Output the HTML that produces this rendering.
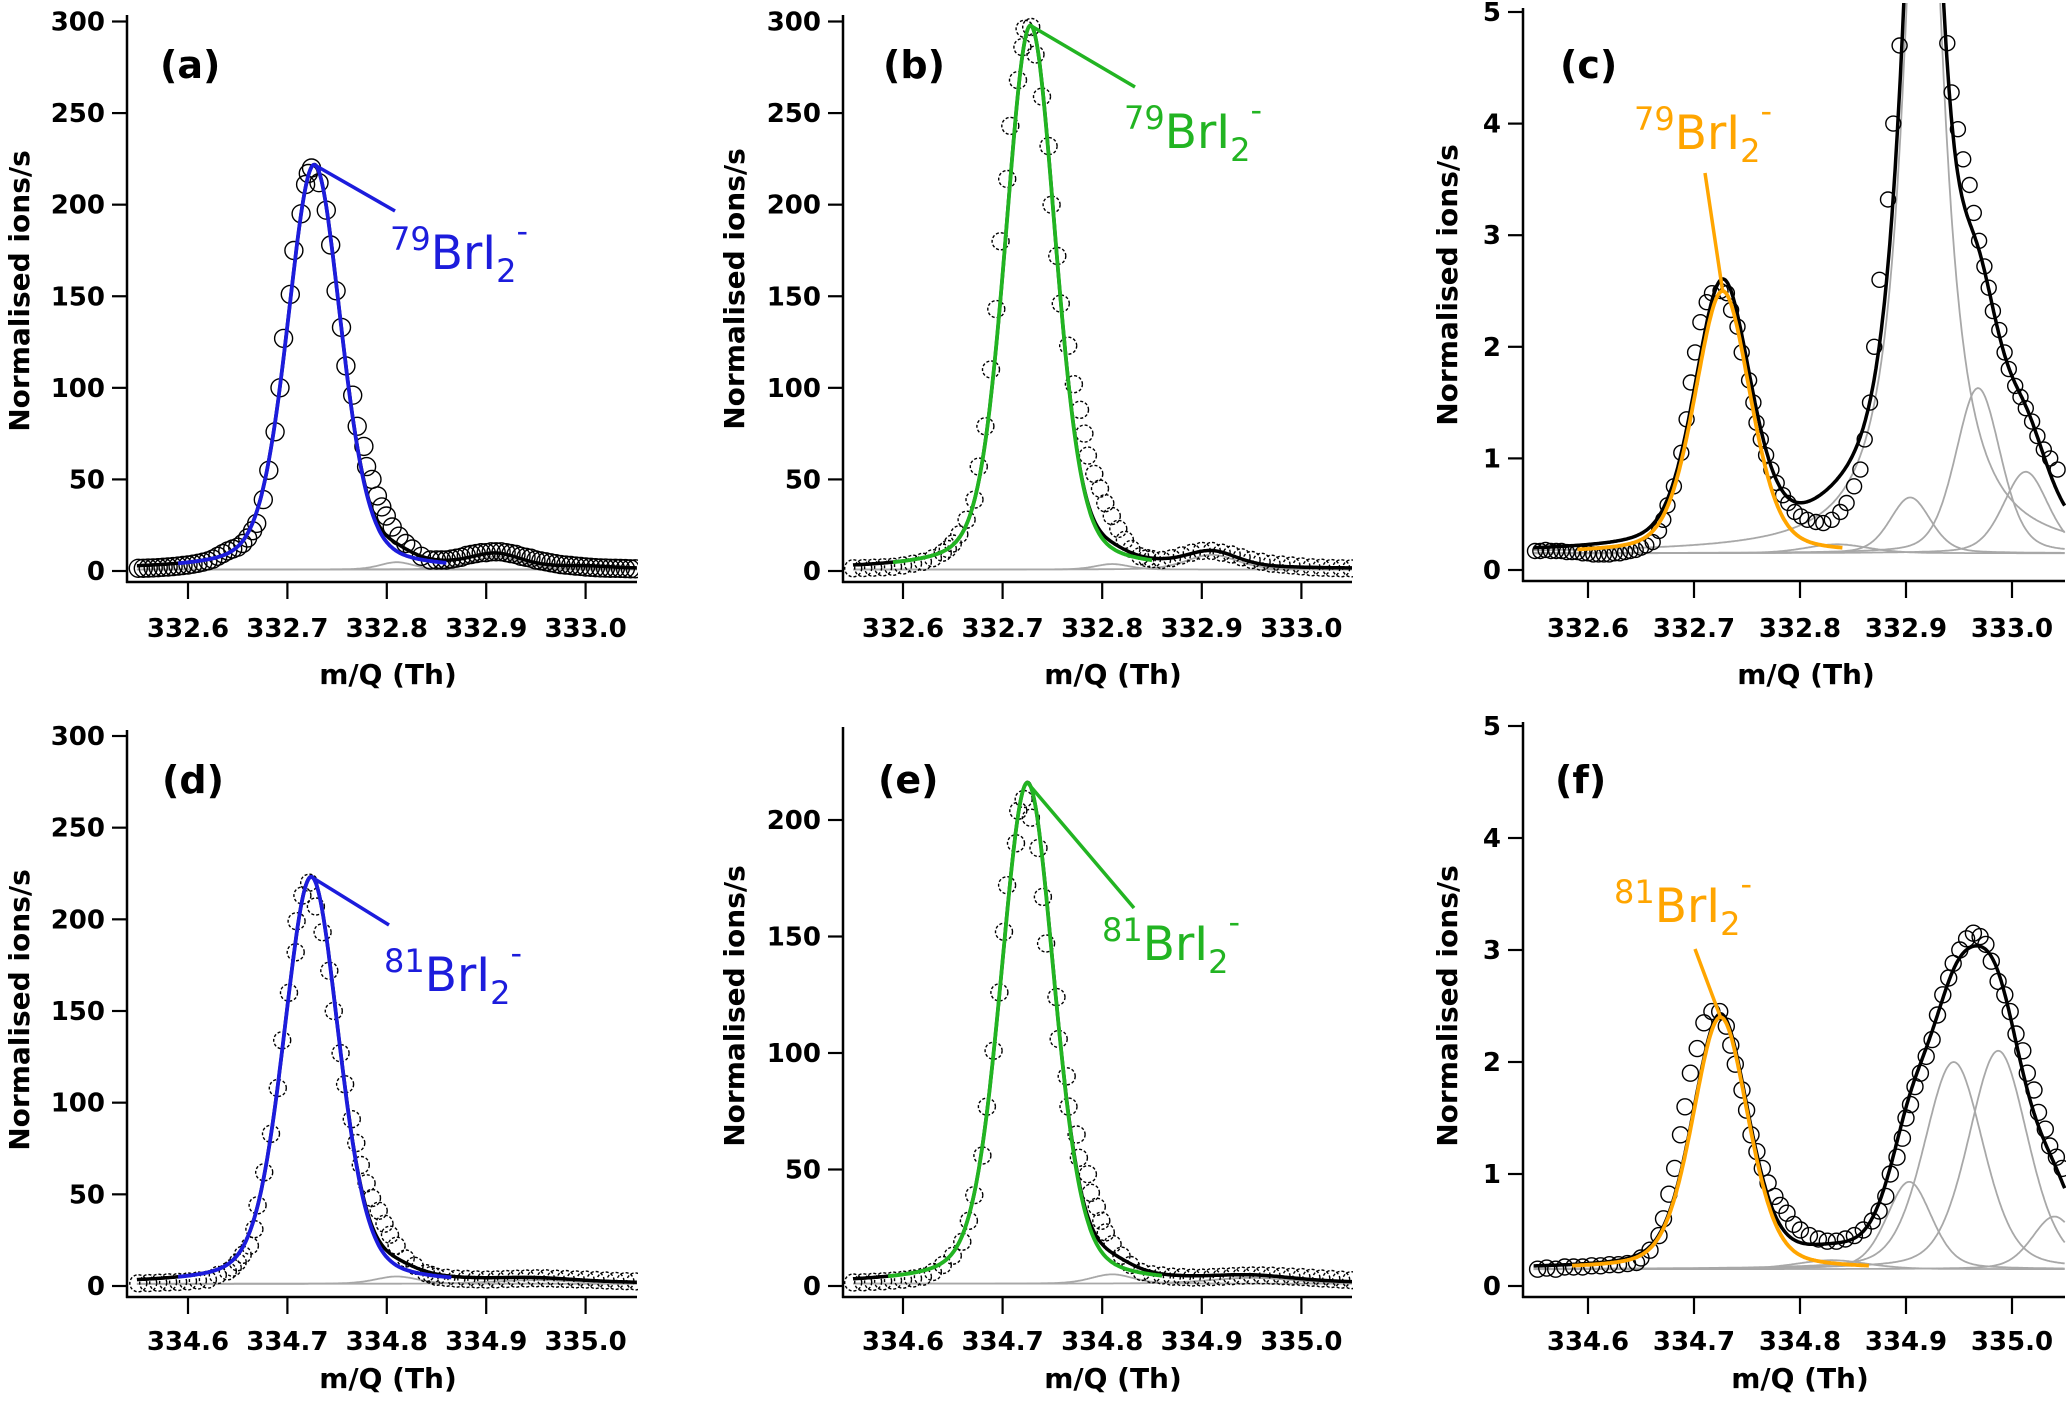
<!DOCTYPE html>
<html><head><meta charset="utf-8">
<style>
html,body{margin:0;padding:0;background:#fff;}
svg{display:block;}
.tk{font-family:"DejaVu Sans","Liberation Sans",sans-serif;font-weight:bold;font-size:26px;fill:#000;}
.tt{font-family:"DejaVu Sans","Liberation Sans",sans-serif;font-weight:bold;font-size:28px;fill:#000;}
.pl{font-family:"DejaVu Sans","Liberation Sans",sans-serif;font-weight:bold;font-size:38px;fill:#000;}
.an{font-family:"DejaVu Sans","Liberation Sans",sans-serif;}
</style></head>
<body>
<svg id="fig" width="2067" height="1404" viewBox="0 0 2067 1404" xmlns="http://www.w3.org/2000/svg"></svg>
<script>
// ---------- data: observed points ----------
const aX=[332.55,332.555,332.56,332.565,332.57,332.575,332.58,332.585,332.59,332.595,332.6,332.605,332.61,332.615,332.62,332.625,332.63,332.635,332.64,332.645,332.65,332.655,332.66,332.665,332.6691,332.6758,332.6813,332.6876,332.6926,332.6962,332.7029,332.7065,332.7138,332.7183,332.721,332.7242,332.7318,332.7391,332.7436,332.749,332.7544,332.7589,332.7657,332.7702,332.777,332.7797,332.7851,332.7905,332.795,332.7995,332.8054,332.8122,332.819,332.8257,332.8348,332.8438,332.85,332.855,332.86,332.865,332.87,332.875,332.88,332.885,332.89,332.895,332.9,332.905,332.91,332.915,332.92,332.925,332.93,332.935,332.94,332.945,332.95,332.955,332.96,332.965,332.97,332.975,332.98,332.985,332.99,332.995,333.0,333.005,333.01,333.015,333.02,333.025,333.03,333.035,333.04,333.045,333.05];
const aY=[1.5,1.5,1.6,1.7,1.8,2,2.2,2.4,2.7,3,3.3,3.7,4.2,4.8,5.5,6.5,8,9.5,11,12,13,15,18,22,26,39,55,76,100,127,151,175,195,211,217,220,212,197,178,153,133,112,96,79,68,57,50,41,35,30,24,19,15,12,8,6,6,6,6,6.5,7,7.5,8.5,9,9.5,10,10,10.5,10.5,10.5,10,9.5,9,8,7.5,7,6,5.5,5,4.5,4,3.5,3.2,3,2.7,2.5,2.2,2,1.8,1.7,1.6,1.5,1.5,1.4,1.3,1.2,1.2];
const bX=[332.55,332.56,332.57,332.58,332.59,332.6,332.61,332.62,332.63,332.64,332.645,332.65,332.6565,332.6639,332.6718,332.6761,332.6827,332.6884,332.6937,332.698,332.7046,332.7077,332.7155,332.7199,332.7221,332.7287,332.733,332.7396,332.7462,332.7492,332.7549,332.7584,332.7659,332.7716,332.7777,332.7821,332.7856,332.7921,332.7978,332.8031,332.8096,332.8162,332.8228,332.8293,332.8381,332.845,332.85,332.86,332.87,332.88,332.89,332.9,332.91,332.92,332.93,332.94,332.95,332.96,332.97,332.98,332.99,333.0,333.01,333.02,333.03,333.04,333.05];
const bY=[1.5,1.6,1.8,2,2.3,3,4,5,7,10,12,15,20,28,39,57,79,110,143,180,214,243,268,286,296,297,282,259,232,200,172,146,123,102,88,75,63,53,45,37,30,23,17,12,8,7,6.5,6,7,8.5,10,11,11,10,9,7.5,6,5,4,3.5,3,2.5,2,1.8,1.6,1.5,1.4];
const cX=[332.55,332.555,332.56,332.565,332.57,332.575,332.58,332.585,332.59,332.595,332.6,332.605,332.61,332.615,332.62,332.625,332.63,332.635,332.64,332.645,332.65,332.655,332.661,332.667,332.671,332.675,332.681,332.688,332.693,332.697,332.701,332.706,332.712,332.717,332.725,332.731,332.735,332.741,332.745,332.752,332.756,332.759,332.763,332.768,332.773,332.778,332.784,332.789,332.795,332.801,332.807,332.815,332.822,332.83,332.838,332.844,332.851,332.857,332.861,332.866,332.87,332.875,332.883,332.888,332.894,332.939,332.943,332.949,332.954,332.96,332.964,332.969,332.974,332.978,332.982,332.988,332.993,332.997,333.003,333.008,333.013,333.019,333.024,333.03,333.036,333.043];
const cY=[0.17,0.17,0.18,0.17,0.17,0.17,0.16,0.16,0.16,0.15,0.15,0.14,0.14,0.14,0.14,0.15,0.15,0.16,0.17,0.18,0.2,0.22,0.25,0.35,0.45,0.58,0.75,1.05,1.35,1.68,1.95,2.22,2.4,2.48,2.5,2.48,2.33,2.18,1.95,1.7,1.5,1.32,1.17,1.03,0.9,0.78,0.67,0.6,0.52,0.48,0.45,0.43,0.42,0.45,0.52,0.6,0.75,0.9,1.17,1.5,2.0,2.6,3.32,4.0,4.7,4.72,4.28,3.95,3.68,3.45,3.2,2.95,2.72,2.53,2.32,2.15,1.95,1.8,1.65,1.55,1.45,1.33,1.2,1.08,1.0,0.9];
const dX=[334.55,334.56,334.57,334.58,334.59,334.6,334.61,334.62,334.63,334.64,334.645,334.65,334.655,334.6623,334.6668,334.67,334.6767,334.6835,334.6903,334.6948,334.7016,334.7084,334.7093,334.7151,334.7219,334.7287,334.7354,334.7422,334.7467,334.7535,334.758,334.7648,334.7693,334.7738,334.7797,334.7851,334.7919,334.7977,334.8032,334.8099,334.819,334.828,334.8393,334.845,334.85,334.86,334.87,334.88,334.89,334.9,334.91,334.92,334.93,334.94,334.95,334.96,334.97,334.98,334.99,335.0,335.01,335.02,335.03,335.04,335.05];
const dY=[1.5,1.6,1.8,2,2.2,2.5,3,3.5,6,8,10,13,17,22,31,44,62,83,108,134,160,182,199,213,220,207,193,172,150,127,110,91,78,66,56,48,41,34,28,22,15,11,7,6,5,4.5,4,3.8,3.6,3.5,3.6,3.8,4,4.1,4.2,4.2,4,3.8,3.6,3.5,3.3,3,2.8,2.6,2.5];
const eX=[334.55,334.56,334.57,334.58,334.59,334.6,334.61,334.62,334.63,334.64,334.65,334.6595,334.6662,334.6716,334.6797,334.6842,334.691,334.6968,334.7014,334.7045,334.7135,334.7158,334.7212,334.7284,334.736,334.7405,334.7437,334.7541,334.7563,334.7644,334.7662,334.7743,334.7766,334.7856,334.7887,334.7946,334.7991,334.8036,334.8104,334.8194,334.8284,334.8396,334.85,334.86,334.87,334.88,334.89,334.9,334.91,334.92,334.93,334.94,334.95,334.96,334.97,334.98,334.99,335.0,335.01,335.02,335.03,335.04,335.05];
const eY=[1.5,1.6,1.8,2,2.3,2.7,3.2,4,6,9,13,19,28,39,56,77,101,126,152,172,190,204,209,201,188,167,147,124,106,90,77,65,55,48,40,34,28,23,18,13,9,6,5,4.5,4,3.8,3.6,3.6,3.8,4,4.2,4.4,4.5,4.5,4.4,4.2,4,3.8,3.5,3.2,3,2.7,2.5];
const fX=[334.5525,334.561,334.5695,334.578,334.5864,334.5949,334.6034,334.6119,334.6203,334.6288,334.6373,334.6458,334.65,334.6585,334.667,334.6712,334.6763,334.6818,334.6873,334.6915,334.6966,334.703,334.7093,334.7169,334.7242,334.7305,334.7347,334.739,334.7453,334.7496,334.7538,334.7593,334.7644,334.7699,334.7763,334.7814,334.7877,334.7941,334.8004,334.8089,334.8174,334.8258,334.8343,334.8428,334.8513,334.8597,334.8682,334.8746,334.8809,334.8852,334.8915,334.8966,334.9,334.9042,334.9085,334.9136,334.9191,334.9246,334.9297,334.9347,334.9403,334.9445,334.9508,334.9572,334.9636,334.9699,334.9754,334.9805,334.9869,334.9932,334.9983,335.0038,335.0102,335.0144,335.0208,335.025,335.0314,335.0356,335.0419,335.0475];
const fY=[0.15,0.16,0.15,0.17,0.17,0.17,0.18,0.18,0.19,0.19,0.2,0.21,0.25,0.32,0.45,0.6,0.82,1.05,1.35,1.6,1.9,2.12,2.35,2.45,2.45,2.32,2.15,1.98,1.75,1.57,1.35,1.2,1.05,0.92,0.8,0.72,0.65,0.55,0.5,0.45,0.42,0.4,0.4,0.42,0.45,0.5,0.58,0.67,0.8,1.0,1.15,1.32,1.5,1.62,1.78,1.9,2.05,2.2,2.42,2.6,2.75,2.88,3.0,3.1,3.15,3.12,3.05,2.9,2.72,2.6,2.45,2.25,2.1,1.9,1.75,1.55,1.4,1.25,1.15,1.05];

// ---------- data: fit components (centres, heights, widths, Lorentzian fraction) ----------
const aCentres=[332.727,332.81,332.91,333.0], aHeights=[221,4,7,1], aWidths=[0.064,0.04,0.06,0.06], aEta=[0.3,0.3,0.3,0.3], aBase=0.8;
const bCentres=[332.728,332.81,332.91], bHeights=[297,3,8], bWidths=[0.06,0.04,0.06], bEta=[0.3,0.3,0.3], bBase=0.8;
const cCentres=[332.727,332.835,332.904,332.9165,332.968,333.013], cHeights=[2.35,0.08,0.5,7.6,1.48,0.73], cWidths=[0.062,0.07,0.045,0.043,0.05,0.05], cEta=[0.3,0.3,0.3,1,0.3,0.3], cBase=0.15;
const dCentres=[334.724,334.81,334.95], dHeights=[222,4,2], dWidths=[0.066,0.05,0.1], dEta=[0.3,0.3,0.3], dBase=1.2;
const eCentres=[334.725,334.81,334.95], eHeights=[215,4,2.5], eWidths=[0.064,0.05,0.1], eEta=[0.3,0.3,0.3], eBase=1.0;
const fCentres=[334.725,334.83,334.903,334.945,334.987,335.04], fHeights=[2.25,0.08,0.78,1.85,1.95,0.47], fWidths=[0.062,0.08,0.05,0.066,0.066,0.05], fEta=[0.3,0.3,0.3,0.3,0.3,0.3], fBase=0.15;

// ---------- tick labels ----------
const xTicksTop=[332.6,332.7,332.8,332.9,333.0];
const xTickLabelsTop=["332.6","332.7","332.8","332.9","333.0"];
const xTicksBot=[334.6,334.7,334.8,334.9,335.0];
const xTickLabelsBot=["334.6","334.7","334.8","334.9","335.0"];
const yTicks300=[0,50,100,150,200,250,300];
const yTicks200=[0,50,100,150,200];
const yTicks5=[0,1,2,3,4,5];
const isoTop="79", isoBot="81";

const NS="http://www.w3.org/2000/svg";
const svg=document.getElementById('fig');
function el(tag,attrs,parent){const e=document.createElementNS(NS,tag);for(const k in attrs)e.setAttribute(k,attrs[k]);(parent||svg).appendChild(e);return e;}
function pv(x,c,h,w,eta){const d=(x-c)/w;return h*((1-eta)*Math.exp(-2.7726*d*d)+eta/(1+4*d*d));}

const panels=[
 {id:'a',xs:aX,ys:aY,C:aCentres,H:aHeights,W:aWidths,E:aEta,B:aBase,col:'#1c1cdc',ax0:127,ax1:637,xRef:332.6,xRefPx:188,px01:99.4,yTopV:300,yTopPx:21.5,y0Px:571,axB:582,axT:15,xt:xTicksTop,xtl:xTickLabelsTop,yt:yTicks300,r:9,dash:null,range:[332.59,332.86],lab:[395,211],labTxt:[390,269],iso:isoTop,plab:[160,78],ytx:29,yty:291,xtx:388,xty:684,xtlY:637},
 {id:'b',xs:bX,ys:bY,C:bCentres,H:bHeights,W:bWidths,E:bEta,B:bBase,col:'#22b422',ax0:843,ax1:1352,xRef:332.6,xRefPx:903,px01:99.6,yTopV:300,yTopPx:21.5,y0Px:571,axB:582,axT:15,xt:xTicksTop,xtl:xTickLabelsTop,yt:yTicks300,r:8.5,dash:'3,2',range:[332.59,332.85],lab:[1135,87],labTxt:[1124,148],iso:isoTop,plab:[883,78],ytx:744,yty:289,xtx:1113,xty:684,xtlY:637},
 {id:'c',xs:cX,ys:cY,C:cCentres,H:cHeights,W:cWidths,E:cEta,B:cBase,col:'#ffa500',ax0:1523,ax1:2065,xRef:332.6,xRefPx:1588,px01:106,yTopV:5,yTopPx:12,y0Px:570,axB:581,axT:8,xt:xTicksTop,xtl:xTickLabelsTop,yt:yTicks5,r:7.5,dash:null,range:[332.59,332.84],lab:[1705,173],labTxt:[1634,149],iso:isoTop,plab:[1560,78],ytx:1457,yty:285,xtx:1806,xty:684,xtlY:637},
 {id:'d',xs:dX,ys:dY,C:dCentres,H:dHeights,W:dWidths,E:dEta,B:dBase,col:'#1c1cdc',ax0:127,ax1:637,xRef:334.6,xRefPx:188,px01:99.4,yTopV:300,yTopPx:736,y0Px:1286,axB:1297,axT:730,xt:xTicksBot,xtl:xTickLabelsBot,yt:yTicks300,r:8.5,dash:'3,2',range:[334.59,334.865],lab:[389,925],labTxt:[384,991],iso:isoBot,plab:[162,793],ytx:29,yty:1010,xtx:388,xty:1388,xtlY:1350},
 {id:'e',xs:eX,ys:eY,C:eCentres,H:eHeights,W:eWidths,E:eEta,B:eBase,col:'#22b422',ax0:843,ax1:1352,xRef:334.6,xRefPx:903,px01:99.6,yTopV:200,yTopPx:820,y0Px:1286,axB:1297,axT:727,xt:xTicksBot,xtl:xTickLabelsBot,yt:yTicks200,r:8.5,dash:'3,2',range:[334.585,334.86],lab:[1134,908],labTxt:[1102,960],iso:isoBot,plab:[878,793],ytx:744,yty:1006,xtx:1113,xty:1388,xtlY:1350},
 {id:'f',xs:fX,ys:fY,C:fCentres,H:fHeights,W:fWidths,E:fEta,B:fBase,col:'#ffa500',ax0:1523,ax1:2065,xRef:334.6,xRefPx:1588,px01:106,yTopV:5,yTopPx:726,y0Px:1286,axB:1297,axT:722,xt:xTicksBot,xtl:xTickLabelsBot,yt:yTicks5,r:8,dash:null,range:[334.585,334.865],lab:[1695,949],labTxt:[1614,922],iso:isoBot,plab:[1555,793],ytx:1457,yty:1006,xtx:1800,xty:1388,xtlY:1350}
];

panels.forEach(p=>{
  const X=v=>p.xRefPx+(v-p.xRef)/0.1*p.px01;
  const Y=v=>p.y0Px-(v/p.yTopV)*(p.y0Px-p.yTopPx);
  const xMin=p.xRef+(p.ax0-p.xRefPx)/p.px01*0.1, xMax=p.xRef+(p.ax1-p.xRefPx)/p.px01*0.1;
  const g=el('g',{});
  
  
  const cp=el('clipPath',{id:'clip-'+p.id},g);
  el('rect',{x:p.ax0+1,y:p.axT-5,width:p.ax1-p.ax0,height:p.axB-p.axT+4},cp);
  const plot=el('g',{'clip-path':'url(#clip-'+p.id+')'},g);
  
  
  function curve(fn,x0,x1){let d='';for(let x=x0;x<=x1+1e-9;x+=0.001){d+=(d?'L':'M')+X(x).toFixed(1)+','+Y(fn(x)).toFixed(1);}return d;}
  for(let i=1;i<p.C.length;i++){
    const gp=el('path',{d:curve(x=>p.B+pv(x,p.C[i],p.H[i],p.W[i],p.E[i]),xMin+0.01,xMax),fill:'none',stroke:'#a8a8a8','stroke-width':1.8},plot);
    
    
  }
  p.xs.forEach((xv,i)=>{
    const c=el('circle',{cx:X(xv).toFixed(1),cy:Y(p.ys[i]).toFixed(1),r:p.r,fill:'none',stroke:'#000','stroke-width':1.4},plot);
    if(p.dash)c.setAttribute('stroke-dasharray',p.dash);
    
    
  });
  const tot=el('path',{d:curve(x=>{let s=p.B;for(let i=0;i<p.C.length;i++)s+=pv(x,p.C[i],p.H[i],p.W[i],p.E[i]);return s;},xMin+0.01,xMax),fill:'none',stroke:'#000','stroke-width':3.5},plot);
  
  
  const cf=el('path',{d:curve(x=>p.B+pv(x,p.C[0],p.H[0],p.W[0],p.E[0]),p.range[0],p.range[1]),fill:'none',stroke:p.col,'stroke-width':3.8},plot);
  
  
  const ll=el('line',{x1:X(p.C[0]),y1:Y(p.B+p.H[0]),x2:p.lab[0],y2:p.lab[1],stroke:p.col,'stroke-width':3.5},g);
  
  
  const t=el('text',{x:p.labTxt[0],y:p.labTxt[1],class:'an',fill:p.col},g);
  
  
  const t1=el('tspan',{'font-size':32,dy:-19},t);t1.textContent=p.iso;
  const t2=el('tspan',{'font-size':47,dy:19},t);t2.textContent='BrI';
  const t3=el('tspan',{'font-size':32,dy:13},t);t3.textContent='2';
  const t4=el('tspan',{'font-size':32,dy:-40},t);t4.textContent='-';
  const ya=el('line',{x1:p.ax0,y1:p.axT,x2:p.ax0,y2:p.axB+1,stroke:'#000','stroke-width':2.5},g);
  
  
  const xa=el('line',{x1:p.ax0-1,y1:p.axB,x2:p.ax1,y2:p.axB,stroke:'#000','stroke-width':2.5},g);
  
  
  p.yt.forEach(v=>{
    el('line',{x1:p.ax0-15,y1:Y(v),x2:p.ax0,y2:Y(v),stroke:'#000','stroke-width':2.2},g);
    const tl=el('text',{x:p.ax0-22,y:Y(v)+9,'text-anchor':'end',class:'tk'},g);
    tl.textContent=String(v);
    
    
  });
  p.xt.forEach((v,i)=>{
    el('line',{x1:X(v),y1:p.axB,x2:X(v),y2:p.axB+17,stroke:'#000','stroke-width':2.2},g);
    const tl=el('text',{x:X(v),y:p.xtlY,'text-anchor':'middle',class:'tk'},g);
    tl.textContent=p.xtl[i];
    
    
  });
  const yt=el('text',{x:0,y:0,'text-anchor':'middle',class:'tt',transform:'translate('+p.ytx+','+p.yty+') rotate(-90)'},g);
  yt.textContent='Normalised ions/s';
  
  
  const xt=el('text',{x:p.xtx,y:p.xty,'text-anchor':'middle',class:'tt'},g);
  xt.textContent='m/Q (Th)';
  
  
  const pl=el('text',{x:p.plab[0],y:p.plab[1],class:'pl'},g);
  pl.textContent='('+p.id+')';
  
  
});
</script>
</body></html>
